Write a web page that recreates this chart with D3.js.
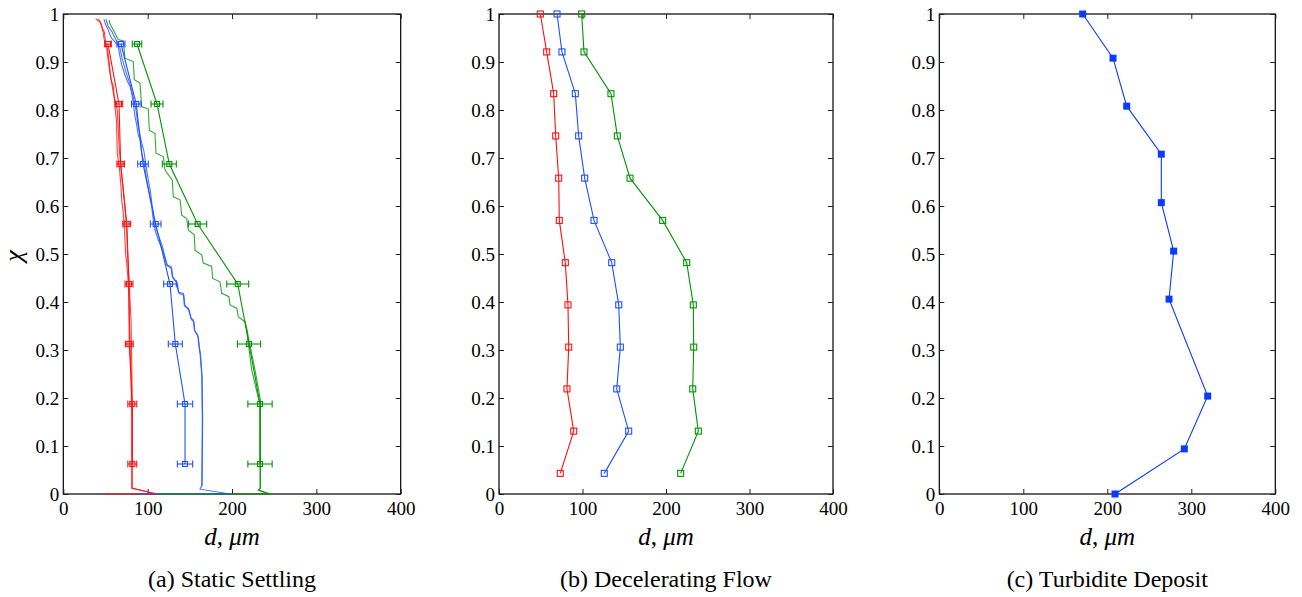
<!DOCTYPE html>
<html><head><meta charset="utf-8">
<script src="https://cdn.jsdelivr.net/npm/d3@7"></script>
<style>body{margin:0;background:#fff} svg text{font-family:"Liberation Serif","Times New Roman",Times,"DejaVu Serif",serif}</style>
</head><body><svg id="c" width="1302" height="597"></svg>
<script>
// ---------- shared axis data ----------
const xTicks = [0, 100, 200, 300, 400];
const xTickLabels = ["0", "100", "200", "300", "400"];
const yTicks = [0, 0.1, 0.2, 0.3, 0.4, 0.5, 0.6, 0.7, 0.8, 0.9, 1];
const yTickLabels = ["0", "0.1", "0.2", "0.3", "0.4", "0.5", "0.6", "0.7", "0.8", "0.9", "1"];
const captions = ["(a) Static Settling", "(b) Decelerating Flow", "(c) Turbidite Deposit"];

// ---------- panel (a): Static Settling ----------
const aChi = [0.9375, 0.8125, 0.6875, 0.5625, 0.4375, 0.3125, 0.1875, 0.0625];
const aRedMean = [53.0, 66.0, 68.0, 75.2, 77.9, 78.2, 81.8, 81.8];
const aRedErr = [3.9, 4.4, 4.5, 4.7, 4.7, 4.7, 5.3, 5.3];
const aBlueMean = [68.4, 86.5, 94.5, 109.5, 126.5, 132.8, 144.3, 144.3];
const aBlueErr = [4.7, 5.6, 6.3, 6.3, 7.5, 8.3, 9.1, 9.1];
const aGreenMean = [87.4, 111.1, 125.7, 159.3, 206.8, 220.2, 233.2, 233.2];
const aGreenErr = [5.6, 7.1, 8.3, 10.7, 13.0, 13.8, 14.4, 14.4];

// simulated profiles [d, chi]
const aRedCurve1 = [[38.4,0.990],[43.5,0.984],[46.2,0.970],[48.6,0.963],[50.3,0.939],[52.6,0.925],[54.2,0.904],[56.6,0.863],[59.3,0.849],[61.3,0.807],[63.3,0.772],[63.3,0.758],[64.0,0.710],[66.4,0.682],[68.4,0.640],[69.2,0.613],[71.1,0.585],[72.3,0.557],[73.1,0.529],[74.0,0.498],[75.2,0.481],[77.1,0.439],[78.2,0.369],[79.1,0.314],[80.3,0.248],[81.1,0.154],[81.1,0.012],[110.7,0],[49.4,0]];
const aRedCurve2 = [[41.5,0.989],[45.5,0.977],[47.4,0.960],[48.6,0.946],[51.5,0.932],[52.6,0.911],[55.4,0.876],[57.4,0.856],[60.1,0.828],[64.0,0.800],[65.2,0.758],[66.4,0.717],[68.4,0.682],[69.9,0.654],[72.3,0.613],[74.0,0.578],[75.2,0.550],[76.3,0.498],[77.9,0.446],[80.3,0.363],[81.4,0.248],[81.8,0.154],[81.8,0.0125],[110.7,0]];
const aBlueCurve1 = [[48.3,0.989],[50.3,0.977],[53.3,0.967],[55.4,0.956],[57.4,0.949],[61.3,0.942],[65.2,0.932],[67.2,0.911],[69.2,0.894],[73.1,0.873],[76.3,0.859],[79.1,0.849],[81.1,0.835],[83.0,0.814],[85.0,0.786],[87.0,0.769],[88.9,0.748],[90.9,0.738],[92.9,0.710],[96.0,0.689],[98.9,0.654],[100.8,0.637],[102.8,0.616],[104.8,0.599],[106.7,0.571],[108.7,0.550],[112.6,0.529],[116.7,0.512],[118.6,0.504],[122.6,0.477],[127.7,0.474],[129.2,0.453],[134.4,0.442],[136.3,0.421],[142.3,0.418],[143.4,0.394],[148.2,0.387],[151.4,0.366],[154.1,0.363],[155.3,0.342],[159.3,0.331],[160.9,0.307],[162.1,0.293],[164.1,0.248],[164.8,0.154],[164.1,0.017],[162.1,0.010],[197.6,0],[87.4,0]];
const aBlueCurve2 = [[50.6,0.989],[53.0,0.975],[57.7,0.963],[62.5,0.946],[67.2,0.929],[69.6,0.908],[74.3,0.879],[79.1,0.854],[82.6,0.829],[86.2,0.800],[88.5,0.769],[92.1,0.738],[95.7,0.713],[98.1,0.683],[100.4,0.658],[103.4,0.629],[105.2,0.602],[107.5,0.575],[109.9,0.554],[114.0,0.533],[117.6,0.515],[119.6,0.500],[123.5,0.475],[128.5,0.470],[130.0,0.450],[135.2,0.438],[137.0,0.418],[143.0,0.414],[144.2,0.391],[149.0,0.383],[152.0,0.363],[155.0,0.358],[156.0,0.339],[160.0,0.328],[161.5,0.304],[162.7,0.290],[164.6,0.245],[165.2,0.154],[164.6,0.017]];
const aGreenCurve1 = [[54.2,0.988],[55.4,0.979],[65.2,0.947],[71.1,0.944],[73.1,0.908],[83.0,0.901],[84.2,0.863],[90.9,0.856],[92.9,0.807],[100.8,0.802],[102.0,0.758],[108.7,0.751],[109.9,0.710],[118.6,0.703],[120.6,0.675],[129.2,0.654],[130.4,0.619],[138.4,0.613],[140.4,0.581],[146.3,0.574],[148.2,0.550],[155.3,0.540],[156.1,0.508],[164.1,0.498],[166.0,0.481],[175.9,0.474],[177.1,0.449],[185.8,0.442],[187.8,0.418],[196.4,0.411],[197.6,0.394],[205.6,0.387],[207.5,0.369],[215.4,0.359],[217.4,0.342],[219.3,0.314],[223.4,0.258],[231.2,0.200],[233.2,0.190],[233.2,0.012],[231.2,0.008],[245.1,0],[111.1,0]];
const aGreenCurve2 = [[215.4,0.359],[218.0,0.340],[221.0,0.312],[227.3,0.258],[233.6,0.196],[233.8,0.012],[231.8,0.008],[245.1,0]];

// ---------- panel (b): Decelerating Flow ----------
const bChi = [1.0, 0.921, 0.834, 0.746, 0.658, 0.570, 0.482, 0.394, 0.306, 0.219, 0.131, 0.043];
const bRed = [49.5, 57.1, 65.5, 67.9, 71.5, 72.2, 79.4, 82.6, 83.5, 81.4, 89.5, 73.4];
const bBlue = [69.5, 75.4, 91.4, 95.4, 102.6, 113.8, 135.0, 143.4, 145.3, 141.0, 155.3, 126.1];
const bGreen = [99.0, 101.8, 134.1, 141.7, 156.9, 196.0, 224.8, 232.7, 233.2, 232.0, 238.7, 217.6];

// ---------- panel (c): Turbidite Deposit ----------
const cChi = [1.0, 0.908, 0.808, 0.708, 0.607, 0.506, 0.406, 0.204, 0.094, 0.0];
const cD = [170.7, 206.8, 223.1, 264.3, 264.3, 279.0, 273.5, 319.5, 291.7, 209.2];

// ---------- drawing ----------
const RED = "#ff1010", BLUE = "#1f50ff", GREEN = "#009400", CBLUE = "#0a3cff";
const SERIF = '"Liberation Serif","Times New Roman",Times,"DejaVu Serif",serif';
const svg = d3.select("#c");
const plotTop = 14, plotBottom = 494;
const panels = [{x0: 63.3, x1: 400.7}, {x0: 499, x1: 833}, {x0: 939.3, x1: 1275.3}];

function makePanel(i) {
  const p = panels[i];
  const x = d3.scaleLinear().domain([0, 400]).range([p.x0, p.x1]);
  const y = d3.scaleLinear().domain([0, 1]).range([plotBottom, plotTop]);
  const g = svg.append("g");
  g.append("rect").attr("x", p.x0).attr("y", plotTop).attr("width", p.x1 - p.x0).attr("height", plotBottom - plotTop)
    .attr("fill", "none").attr("stroke", "#000").attr("stroke-width", 1.2);
  const styleAxis = (sel, fs) => {
    sel.attr("font-family", SERIF);
    sel.select(".domain").remove();
    sel.selectAll(".tick line").attr("stroke", "#222").attr("stroke-width", 1);
    sel.selectAll("text").attr("font-family", SERIF).attr("font-size", fs).attr("fill", "#000");
  };
  g.append("g").attr("transform", `translate(0,${plotBottom})`)
    .call(d3.axisBottom(x).tickValues(xTicks).tickFormat((d, k) => xTickLabels[k]).tickSizeInner(-5).tickSizeOuter(0).tickPadding(8))
    .call(s => styleAxis(s, 19));
  g.append("g").attr("transform", `translate(0,${plotTop})`)
    .call(d3.axisTop(x).tickValues(xTicks).tickFormat("").tickSizeInner(-5).tickSizeOuter(0))
    .call(s => styleAxis(s, 19));
  g.append("g").attr("transform", `translate(${p.x0},0)`)
    .call(d3.axisLeft(y).tickValues(yTicks).tickFormat((d, k) => yTickLabels[k]).tickSizeInner(-5).tickSizeOuter(0).tickPadding(4))
    .call(s => styleAxis(s, 19));
  g.append("g").attr("transform", `translate(${p.x1},0)`)
    .call(d3.axisRight(y).tickValues(yTicks).tickFormat("").tickSizeInner(-5).tickSizeOuter(0))
    .call(s => styleAxis(s, 19));
  const cx = (p.x0 + p.x1) / 2;
  const lab = g.append("text").attr("x", cx).attr("y", 545).attr("text-anchor", "middle")
    .attr("font-family", SERIF).attr("font-size", 25).attr("font-style", "italic");
  lab.append("tspan").text("d");
  lab.append("tspan").attr("font-style", "normal").text(", ");
  lab.append("tspan").text("μm");
  g.append("text").attr("x", cx).attr("y", 587).attr("text-anchor", "middle").attr("font-family", SERIF)
    .attr("font-size", 24).text(captions[i]);
  return {g, x, y};
}

const line = (x, y) => d3.line().x(d => x(d[0])).y(d => y(d[1]));

// Panel a
{
  const {g, x, y} = makePanel(0);
  const L = line(x, y);
  const curves = [[aRedCurve1, RED], [aRedCurve2, RED], [aBlueCurve1, BLUE], [aBlueCurve2, BLUE], [aGreenCurve1, GREEN], [aGreenCurve2, GREEN]];
  curves.forEach(([c, col]) => g.append("path").attr("d", L(c)).attr("fill", "none").attr("stroke", col)
    .attr("stroke-width", 1.1).attr("stroke-opacity", 0.8));
  const series = [[aRedMean, aRedErr, RED], [aBlueMean, aBlueErr, BLUE], [aGreenMean, aGreenErr, GREEN]];
  series.forEach(([m, e, col]) => {
    const pts = m.map((v, k) => [v, aChi[k]]);
    g.append("path").attr("d", L(pts)).attr("fill", "none").attr("stroke", col).attr("stroke-width", 1.1);
    pts.forEach((pt, k) => {
      const yy = y(pt[1]), xl = x(pt[0] - e[k]), xr = x(pt[0] + e[k]);
      g.append("line").attr("x1", xl).attr("x2", xr).attr("y1", yy).attr("y2", yy).attr("stroke", col).attr("stroke-width", 1.1);
      [xl, xr].forEach(xc => g.append("line").attr("x1", xc).attr("x2", xc).attr("y1", yy - 3.5).attr("y2", yy + 3.5).attr("stroke", col).attr("stroke-width", 1.1));
      g.append("rect").attr("x", x(pt[0]) - 2.5).attr("y", yy - 2.5).attr("width", 5).attr("height", 5)
        .attr("fill", "none").attr("stroke", col).attr("stroke-width", 1.1);
    });
  });
  g.append("text").attr("transform", "translate(22,256) rotate(-90)").attr("text-anchor", "middle")
    .attr("font-family", SERIF).attr("font-size", 26).attr("font-style", "italic").text("χ");
}

// Panel b
{
  const {g, x, y} = makePanel(1);
  const L = line(x, y);
  [[bRed, RED], [bBlue, BLUE], [bGreen, GREEN]].forEach(([vals, col]) => {
    const pts = vals.map((v, k) => [v, bChi[k]]);
    g.append("path").attr("d", L(pts)).attr("fill", "none").attr("stroke", col).attr("stroke-width", 1.1);
    g.selectAll(null).data(pts).join("rect")
      .attr("x", d => x(d[0]) - 3).attr("y", d => y(d[1]) - 3).attr("width", 6).attr("height", 6)
      .attr("fill", "none").attr("stroke", col).attr("stroke-width", 1.1);
  });
}

// Panel c
{
  const {g, x, y} = makePanel(2);
  const L = line(x, y);
  const pts = cD.map((v, k) => [v, cChi[k]]);
  g.append("path").attr("d", L(pts)).attr("fill", "none").attr("stroke", CBLUE).attr("stroke-width", 1.1);
  g.selectAll(null).data(pts).join("rect")
    .attr("x", d => x(d[0]) - 3.5).attr("y", d => y(d[1]) - 3.5).attr("width", 7).attr("height", 7)
    .attr("fill", CBLUE);
}
</script></body></html>
